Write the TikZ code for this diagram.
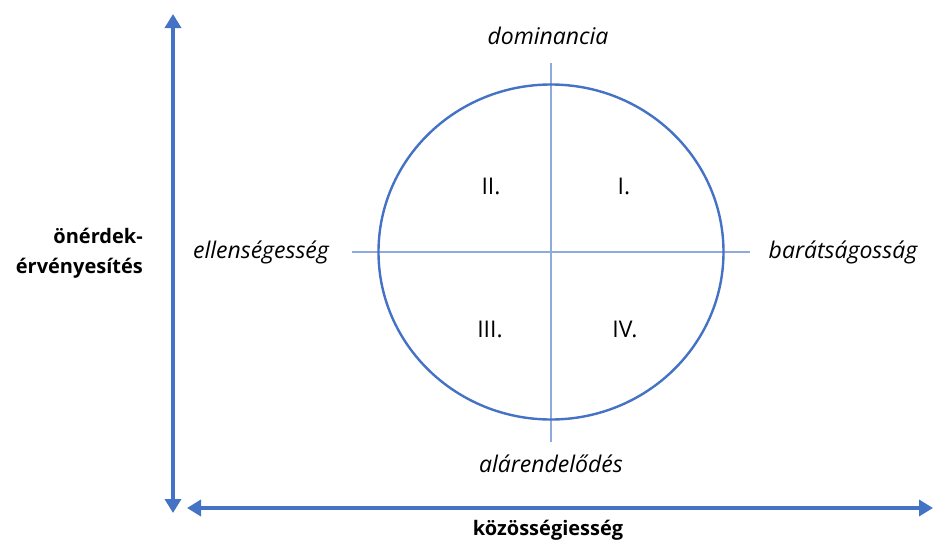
\documentclass[tikz,border=0pt]{standalone}
\usepackage{fontspec}
\setmainfont{Open Sans}
\usetikzlibrary{arrows.meta}
\definecolor{axblue}{HTML}{4472C4}
\definecolor{lineblue}{HTML}{8FAADC}
\begin{document}
\begin{tikzpicture}[x=1pt,y=-1pt,
  axis/.style={draw=axblue,line width=3.5pt,{Triangle[width=16pt,length=14pt]}-{Triangle[width=16pt,length=14pt]}},
  cross/.style={draw=lineblue,line width=1.2pt},
  lbl/.style={font=\fontsize{23}{28}\selectfont\itshape,inner sep=0pt},
  num/.style={font=\fontsize{23}{28}\selectfont,inner sep=0pt},
  blbl/.style={font=\fontsize{20}{30}\selectfont\bfseries,inner sep=0pt}]
\useasboundingbox (0,0) rectangle (935,546);
\coordinate (vtop) at (173,14);
\coordinate (vbot) at (173,513);
\coordinate (hleft) at (187,508);
\coordinate (hright) at (933,508);
\draw[axis] (vtop) -- (vbot);
\draw[axis] (hleft) -- (hright);
\coordinate (c) at (551,252);
\coordinate (ct) at (551,63);
\coordinate (cb) at (551,442);
\coordinate (cl) at (352,252);
\coordinate (cr) at (750,252);
\draw[cross] (ct) -- (cb);
\draw[cross] (cl) -- (cr);
\draw[draw=axblue,line width=2.4pt] (c) ellipse [x radius=172.5, y radius=167.5];
\node[lbl] (dom) at (548,36) {dominancia};
\node[lbl] (ala) at (551,464) {alárendelődés};
\node[lbl] (ell) at (261,252) {ellenségesség};
\node[lbl] (bar) at (843,252) {barátságosság};
\node[num] (q2) at (491,186) {II.};
\node[num] (q1) at (624,186) {I.};
\node[num] (q3) at (490,329) {III.};
\node[num] (q4) at (625,329) {IV.};
\node[blbl,anchor=east,align=right] (oner) at (143,253) {önérdek-\\érvényesítés};
\node[blbl] (koz) at (548,530) {közösségiesség};
\end{tikzpicture}
\end{document}
